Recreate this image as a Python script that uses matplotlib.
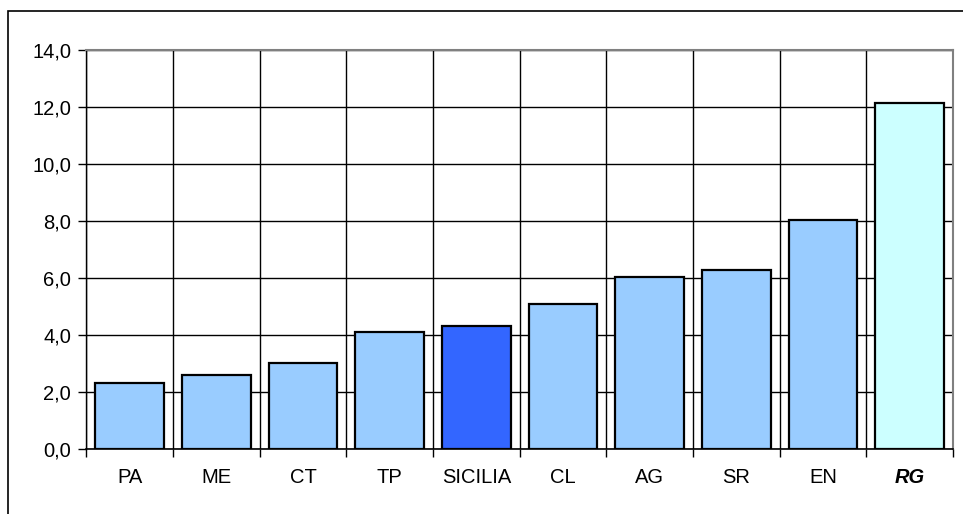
import matplotlib
matplotlib.use("Agg")
import matplotlib.pyplot as plt
from matplotlib.patches import Rectangle
from matplotlib.ticker import FixedLocator, FuncFormatter
import numpy as np

categories = ["PA", "ME", "CT", "TP", "SICILIA", "CL", "AG", "SR", "EN", "RG"]
values = [2.32, 2.58, 3.03, 4.10, 4.31, 5.09, 6.02, 6.28, 8.02, 12.12]
bar_colors = ["#99CCFF"] * 4 + ["#3366FF"] + ["#99CCFF"] * 4 + ["#CCFFFF"]
yticks = [0, 2, 4, 6, 8, 10, 12, 14]

plt.rcParams['font.family'] = ['Liberation Sans', 'DejaVu Sans']

W, H = 963, 514
fig = plt.figure(figsize=(W / 100, H / 100), dpi=100)
fig.patches.append(Rectangle((8 / W, -0.1), 1.2, 1 - 11 / H + 0.1, transform=fig.transFigure,
                             fill=False, edgecolor="black", linewidth=1.2, zorder=0))

ax = fig.add_axes([86.3 / W, 1 - 449 / H, (953 - 86.3) / W, (449 - 49.5) / H])
x = np.arange(len(categories))
ax.bar(x, values, width=0.79, color=bar_colors, edgecolor="black", linewidth=1.6, zorder=3)

ax.set_xlim(-0.5, len(categories) - 0.5)
ax.set_ylim(0, 14)
ax.set_yticks(yticks)
ax.yaxis.set_major_formatter(FuncFormatter(lambda v, p: f"{v:.1f}".replace(".", ",")))
ax.set_xticks(x)
ax.set_xticklabels(categories)
ax.tick_params(axis="x", which="major", length=0, pad=13.5, labelsize=14.5)
ax.xaxis.set_minor_locator(FixedLocator(np.arange(-0.5, len(categories), 1.0)))
ax.tick_params(axis="x", which="minor", length=6, width=1, direction="out")
ax.tick_params(axis="y", length=6, width=1, direction="out", labelsize=14.5, pad=5)
for lab in ax.get_xticklabels():
    if lab.get_text() == "RG":
        lab.set_fontweight("bold")
        lab.set_fontstyle("italic")

ax.grid(axis="y", which="major", color="black", linewidth=1.0, zorder=1)
ax.grid(axis="x", which="minor", color="black", linewidth=1.0, zorder=1)
ax.set_axisbelow(True)

for s in ["top", "right"]:
    ax.spines[s].set_color("#808080")
    ax.spines[s].set_linewidth(1.5)
ax.spines["left"].set_color("black")
ax.spines["bottom"].set_color("black")
ax.spines["left"].set_linewidth(1.0)
ax.spines["bottom"].set_linewidth(1.2)

fig.savefig("out.png", dpi=100)
